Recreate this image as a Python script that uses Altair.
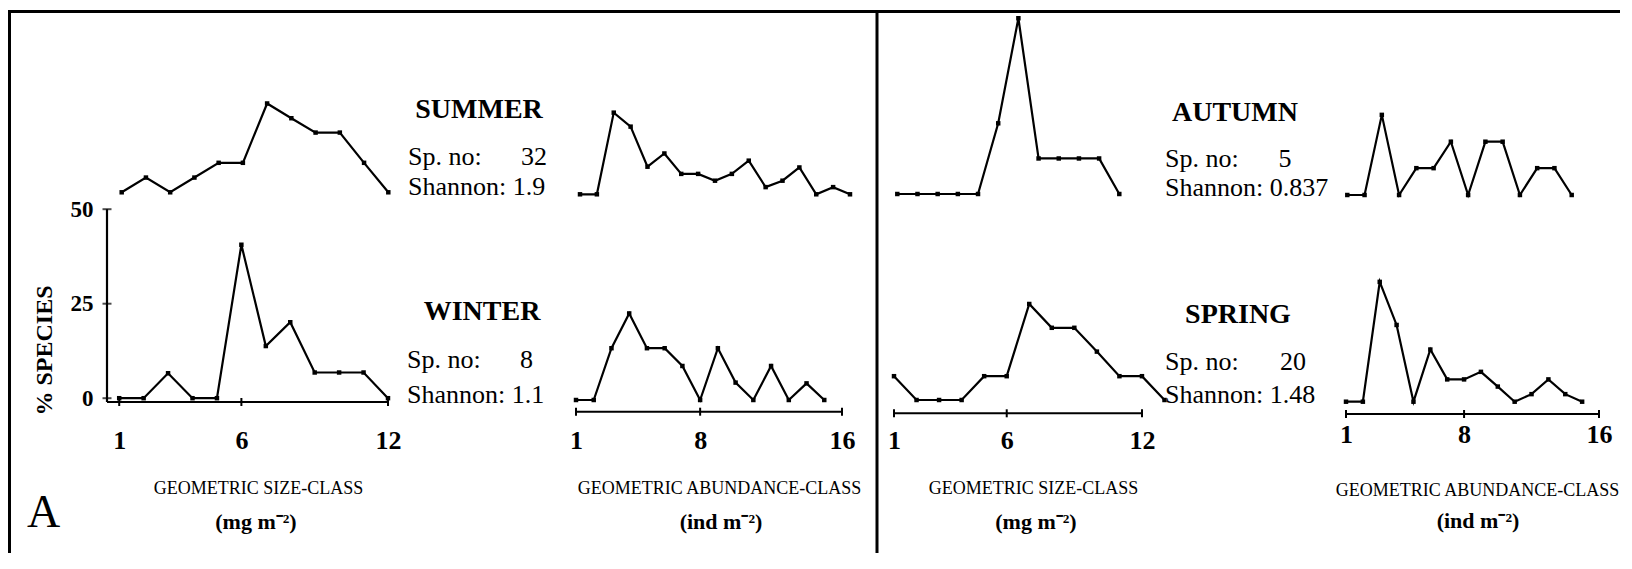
import altair as alt
import pandas as pd

# ---------------- data (percent of species per geometric class) ----------------
size_classes_12 = [1, 2, 3, 4, 5, 6, 7, 8, 9, 10, 11, 12]
size_classes_13 = [1, 2, 3, 4, 5, 6, 7, 8, 9, 10, 11, 12, 13]
abund_classes_14 = [1, 2, 3, 4, 5, 6, 7, 8, 9, 10, 11, 12, 13, 14]
abund_classes_15 = [1, 2, 3, 4, 5, 6, 7, 8, 9, 10, 11, 12, 13, 14, 15]
abund_classes_17 = [1, 2, 3, 4, 5, 6, 7, 8, 9, 10, 11, 12, 13, 14, 15, 16, 17]

summer_size = [0, 3.9, 0, 3.9, 7.8, 7.8, 23.5, 19.6, 15.8, 15.8, 7.8, 0]
winter_size = [0, 0, 6.6, 0, 0, 40.6, 13.8, 20.1, 6.8, 6.8, 6.8, 0]
autumn_size = [0, 0, 0, 0, 0, 18.7, 46.5, 9.4, 9.4, 9.4, 9.4, 0]
spring_size = [6.3, 0, 0, 0, 6.3, 6.3, 25.4, 19.1, 19.1, 12.8, 6.3, 6.3, 0]

summer_abund = [0, 0, 21.6, 17.9, 7.3, 10.8, 5.4, 5.4, 3.6, 5.4, 8.9, 1.9, 3.6, 7.1, 0, 1.9, 0]
winter_abund = [0, 0, 13.7, 22.9, 13.7, 13.7, 9.0, 0, 13.7, 4.6, 0, 9.0, 0, 4.4, 0]
autumn_abund = [0, 0, 21.2, 0, 7.1, 7.1, 14.1, 0, 14.1, 14.1, 0, 7.1, 7.1, 0]
spring_abund = [0, 0, 31.7, 20.3, 0, 13.8, 5.9, 5.9, 7.9, 4.0, 0, 2.0, 5.9, 2.0, 0]

seasons = ["SUMMER", "WINTER", "AUTUMN", "SPRING"]
species_no = ["32", "8", "5", "20"]
shannon = ["1.9", "1.1", "0.837", "1.48"]

size_ticks = [1, 6, 12]
abund_ticks = [1, 8, 16]
pct_ticks = [0, 25, 50]
pct_axis_span = [-1, 50]

# ---------------- layout helpers ----------------
OFF = 8          # page margin: reference pixel -> chart pixel
W, H = 1612, 545
PXU = 3.78       # pixels per percent
FONT = "Liberation Serif"
one = pd.DataFrame({"k": [0]})


def xscale(d0, d1, left, right):
    return alt.Scale(domain=[d0, d1], range=[left - OFF, right - OFF], nice=False, zero=False)


def yscale(base, d0=0):
    b = base - OFF
    return alt.Scale(domain=[d0, 50], range=[b - d0 * PXU, b - 50 * PXU], nice=False, zero=False)


def series(cls, vals, xs, ys):
    df = pd.DataFrame({"cls": cls, "pct": vals})
    return alt.Chart(df).mark_line(
        color="black", strokeWidth=2.2,
        point=alt.OverlayMarkDef(shape="square", size=20, color="black", filled=True),
    ).encode(
        x=alt.X("cls:Q", scale=xs, axis=None),
        y=alt.Y("pct:Q", scale=ys, axis=None),
    )


def bottom_axis(ticks, d0, d1, left, right, axis_y, label_base, title, title_x, title_base):
    """Labels and title from a Vega axis; axis line and ticks as rules on the same scale."""
    xs = xscale(d0, d1, left, right)
    ax = alt.Axis(
        orient="bottom", offset=(axis_y - OFF) - H, values=ticks, format="d", grid=False,
        domain=False, ticks=True, tickOpacity=0, tickSize=5,
        labelFont=FONT, labelFontWeight="bold", labelFontSize=26, labelColor="black",
        labelBaseline="alphabetic", labelPadding=label_base - axis_y - 5,
        labelFlush=False, labelOverlap=False, labelBound=False,
        title=title, titleFont=FONT, titleFontWeight="normal", titleFontSize=18,
        titleColor="black", titleX=title_x - OFF, titleY=title_base - axis_y,
        titleAlign="center", titleBaseline="alphabetic",
    )
    tick_df = pd.DataFrame({"cls": ticks})
    labels = alt.Chart(tick_df).mark_point(opacity=0).encode(x=alt.X("cls:Q", scale=xs, axis=ax))
    line = alt.Chart(pd.DataFrame({"a": [d0], "b": [d1]})).mark_rule(
        color="black", strokeWidth=2).encode(
        x=alt.X("a:Q", scale=xs, axis=None), x2="b", y=alt.value(axis_y - OFF))
    tks = alt.Chart(tick_df).mark_rule(color="black", strokeWidth=2).encode(
        x=alt.X("cls:Q", scale=xs, axis=None),
        y=alt.value(axis_y - OFF - 4), y2=alt.value(axis_y - OFF + 4))
    return [labels, line, tks]


def left_axis_labels(ticks, ys, axis_x):
    ax = alt.Axis(
        orient="left", offset=-(axis_x - OFF), values=ticks, grid=False,
        domain=False, ticks=True, tickOpacity=0, tickSize=5,
        labelFont=FONT, labelFontWeight="bold", labelFontSize=23, labelColor="black",
        labelPadding=9, labelFlush=False,
        title="% SPECIES", titleFont=FONT, titleFontWeight="bold", titleFontSize=24,
        titleColor="black", titleAngle=270, titleX=44 - axis_x, titleY=350 - OFF,
        titleAlign="center", titleBaseline="middle",
    )
    return alt.Chart(pd.DataFrame({"pct": ticks})).mark_point(opacity=0).encode(
        y=alt.Y("pct:Q", scale=ys, axis=ax))


def left_axis_lines(ticks, span, xs, ys, x_at):
    """Vertical axis line and horizontal ticks drawn through the panel's own scales."""
    line = alt.Chart(pd.DataFrame({"pct": span, "cls": [x_at, x_at]})).mark_line(
        color="black", strokeWidth=2.2).encode(
        x=alt.X("cls:Q", scale=xs, axis=None), y=alt.Y("pct:Q", scale=ys, axis=None))
    tks = alt.Chart(pd.DataFrame({"pct": ticks, "cls": [x_at] * len(ticks)})).mark_tick(
        color="black", thickness=2, size=9, orient="horizontal").encode(
        x=alt.X("cls:Q", scale=xs, axis=None), y=alt.Y("pct:Q", scale=ys, axis=None))
    return [line, tks]


def label(text, x, y, size, weight="normal", align="left"):
    return alt.Chart(one).mark_text(
        text=text, font=FONT, fontSize=size, fontWeight=weight, align=align,
        baseline="alphabetic", color="black",
    ).encode(x=alt.value(x - OFF), y=alt.value(y - OFF))


def rule(x, y, x2=None, y2=None, w=3):
    enc = dict(x=alt.value(x), y=alt.value(y))
    if x2 is not None:
        enc["x2"] = alt.value(x2)
    if y2 is not None:
        enc["y2"] = alt.value(y2)
    return alt.Chart(one).mark_rule(color="black", strokeWidth=w).encode(**enc)


layers = [
    # frame
    rule(1.5, 2, y2=H),
    rule(0, 3.5, x2=W),
    rule(877 - OFF, 2, y2=H),
    # left half
    series(size_classes_12, summer_size, xscale(1, 12, 121.7, 388.3), yscale(192.3)),
    series(abund_classes_17, summer_abund, xscale(1, 17, 580, 850), yscale(194.3)),
    series(size_classes_12, winter_size, xscale(1, 12, 119.2, 388), yscale(398.2)),
    *bottom_axis(size_ticks, 0.5, 12, 107, 388, 402, 448, "GEOMETRIC SIZE-CLASS", 258, 493),
    left_axis_labels(pct_ticks, yscale(398.2), 107),
    series(abund_classes_15, winter_abund, xscale(1, 16, 576, 842), yscale(400)),
    *bottom_axis(abund_ticks, 1, 16, 576, 842, 411.7, 448, "GEOMETRIC ABUNDANCE-CLASS", 719, 493),
    # right half
    series(size_classes_12, autumn_size, xscale(1, 12, 897.3, 1119.3), yscale(194)),
    series(abund_classes_14, autumn_abund, xscale(1, 14, 1347.3, 1571.7), yscale(195)),
    series(size_classes_13, spring_size, xscale(1, 13, 894, 1164.5), yscale(400)),
    *bottom_axis(size_ticks, 1, 12, 894, 1142, 413.3, 448, "GEOMETRIC SIZE-CLASS", 1033, 493),
    series(abund_classes_15, spring_abund, xscale(1, 16, 1346, 1599), yscale(401.7)),
    *bottom_axis(abund_ticks, 1, 16, 1346, 1599, 414, 442, "GEOMETRIC ABUNDANCE-CLASS", 1477, 495),
    # season annotations
    label(seasons[0], 479, 118, 28, "bold", "center"),
    label("Sp. no:", 408, 165, 26),
    label(species_no[0], 547, 165, 26, align="right"),
    label("Shannon: " + shannon[0], 408, 195, 26),
    label(seasons[1], 482, 320, 28, "bold", "center"),
    label("Sp. no:", 407, 368, 26),
    label(species_no[1], 533, 368, 26, align="right"),
    label("Shannon: " + shannon[1], 407, 403, 26),
    label(seasons[2], 1235, 121, 28, "bold", "center"),
    label("Sp. no:", 1165, 167, 26),
    label(species_no[2], 1285, 167, 26, align="center"),
    label("Shannon: " + shannon[2], 1165, 196, 26),
    label(seasons[3], 1238, 323, 28, "bold", "center"),
    label("Sp. no:", 1165, 370, 26),
    label(species_no[3], 1293, 370, 26, align="center"),
    label("Shannon: " + shannon[3], 1165, 403, 26),
    # unit lines of the axis titles
    label("(mg m\u207b\u00b2)", 256, 529, 22, "bold", "center"),
    label("(ind m\u207b\u00b2)", 721, 529, 22, "bold", "center"),
    label("(mg m\u207b\u00b2)", 1036, 529, 22, "bold", "center"),
    label("(ind m\u207b\u00b2)", 1478, 528, 22, "bold", "center"),
    # panel letter
    label("A", 27, 527, 46),
    # vertical % axis line and ticks, drawn last
    *left_axis_lines(pct_ticks, pct_axis_span, xscale(0.5, 12, 107, 388), yscale(398.2, -1), 0.5),
]

chart = (
    alt.layer(*layers)
    .resolve_scale(x="independent", y="independent")
    .resolve_axis(x="independent", y="independent")
    .properties(width=W, height=H, padding=0, autosize="none", background="white")
    .configure_view(stroke=None)
)

chart.save("out.html", embed_options={"renderer": "svg", "actions": False})
